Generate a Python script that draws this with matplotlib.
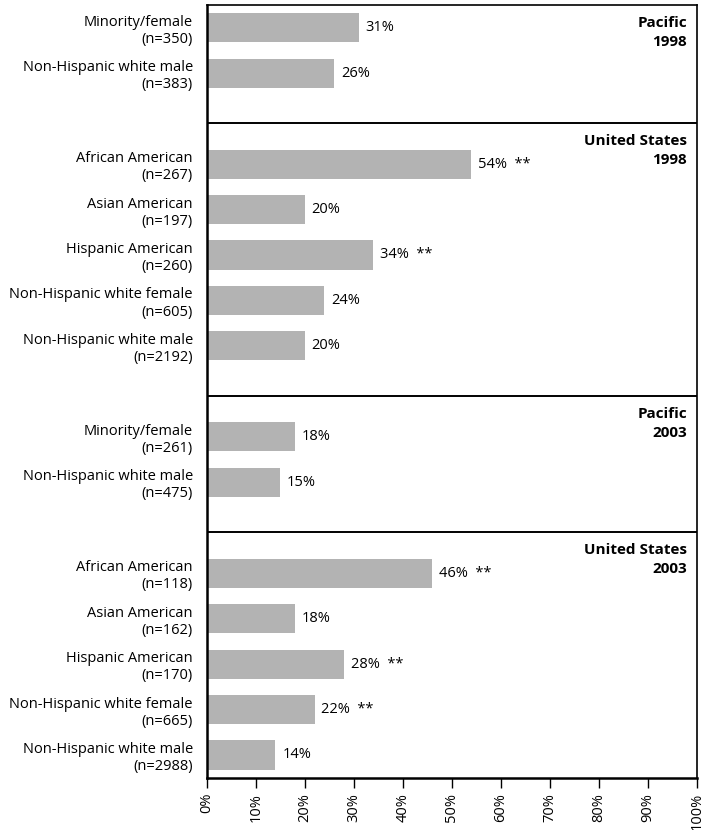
import matplotlib
matplotlib.use("Agg")
import matplotlib.pyplot as plt

plt.rcParams['font.family'] = ['Open Sans', 'DejaVu Sans']

# panels (region / year), top to bottom
panel_titles = ["Pacific\n1998", "United States\n1998", "Pacific\n2003", "United States\n2003"]

pac98_groups = ["Minority/female", "Non-Hispanic white male"]
pac98_n = [350, 383]
pac98_pct = [31, 26]
pac98_sig = [False, False]

us98_groups = ["African American", "Asian American", "Hispanic American",
               "Non-Hispanic white female", "Non-Hispanic white male"]
us98_n = [267, 197, 260, 605, 2192]
us98_pct = [54, 20, 34, 24, 20]
us98_sig = [True, False, True, False, False]

pac03_groups = ["Minority/female", "Non-Hispanic white male"]
pac03_n = [261, 475]
pac03_pct = [18, 15]
pac03_sig = [False, False]

us03_groups = ["African American", "Asian American", "Hispanic American",
               "Non-Hispanic white female", "Non-Hispanic white male"]
us03_n = [118, 162, 170, 665, 2988]
us03_pct = [46, 18, 28, 22, 14]
us03_sig = [True, False, True, True, False]

panels = [
    (pac98_groups, pac98_n, pac98_pct, pac98_sig),
    (us98_groups, us98_n, us98_pct, us98_sig),
    (pac03_groups, pac03_n, pac03_pct, pac03_sig),
    (us03_groups, us03_n, us03_pct, us03_sig),
]

fs = 10.5

fig = plt.figure(figsize=(7.05, 8.3), dpi=100)
ax = fig.add_axes([0.2932, 0.063, 0.6950, 0.931])

ticks = []
ticklabels = []
dividers = []
slot = 0
for groups, ns, pcts, sigs in panels:
    ys = [slot + i + 0.5 for i in range(len(groups))]
    ax.barh(ys, pcts, height=0.64, color='#b3b3b3', edgecolor='none')
    for y, p, s in zip(ys, pcts, sigs):
        txt = f"{p}%" + ("  **" if s else "")
        ax.annotate(txt, xy=(p, y), xytext=(5, 0), textcoords='offset points',
                    va='center', ha='left', fontsize=fs)
    ticks += ys
    ticklabels += [f"{g}\n(n={n})" for g, n in zip(groups, ns)]
    slot += len(groups) + 1
    dividers.append(ys[-1] + 1.1)

total = slot - 1
for d in dividers[:-1]:
    ax.axhline(d, color='black', lw=1.4)

panel_tops = [0] + dividers[:-1]
for top, title in zip(panel_tops, panel_titles):
    ax.annotate(title, xy=(1, top), xycoords=('axes fraction', 'data'),
                xytext=(-7, -8), textcoords='offset points',
                ha='right', va='top', fontsize=11, fontweight='bold',
                linespacing=1.45)

ax.set_ylim(total, 0)
ax.set_xlim(0, 100)
ax.set_yticks(ticks)
ax.set_yticklabels(ticklabels, fontsize=fs)
ax.tick_params(axis='y', length=0, pad=10)
ax.set_xticks(range(0, 101, 10))
ax.set_xticklabels([f"{v}%" for v in range(0, 101, 10)], rotation=90, fontsize=fs)
ax.tick_params(axis='x', length=7, width=1, pad=4, direction='out')

ax.spines['left'].set_linewidth(1.8)
ax.spines['bottom'].set_linewidth(1.8)
ax.spines['top'].set_linewidth(1.2)
ax.spines['right'].set_linewidth(1.2)

fig.savefig("out.png", dpi=100)
